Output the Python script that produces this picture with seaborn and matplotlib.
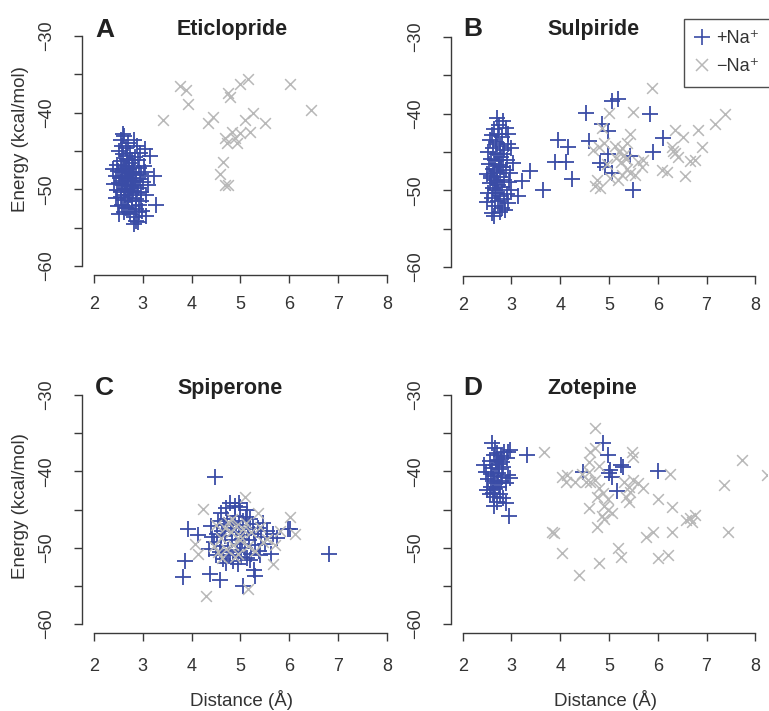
import numpy as np
import pandas as pd
import seaborn as sns
import matplotlib
matplotlib.use('Agg')
import matplotlib.pyplot as plt
from matplotlib.lines import Line2D

# Distance (Å) / Energy (kcal/mol)
# A  Eticlopride
a_pos_x = [2.59, 2.56, 2.62, 2.83, 2.70, 2.66, 3.04, 2.95, 3.14, 2.52, 2.60, 2.75, 2.85, 2.90, 2.68, 2.55,
           2.48, 2.62, 2.72, 2.80, 2.92, 3.02, 2.39, 2.50, 2.58, 2.66, 2.74, 2.83, 2.96, 3.05, 3.24, 2.45,
           2.54, 2.63, 2.70, 2.78, 2.86, 2.94, 3.00, 2.42, 2.51, 2.60, 2.68, 2.76, 2.84, 2.91, 2.47, 2.56,
           2.64, 2.72, 2.80, 2.88, 2.97, 3.07, 2.46, 2.55, 2.62, 2.71, 2.79, 2.87, 2.97, 2.49, 2.58, 2.66,
           2.70, 2.78, 2.86, 2.93, 3.28, 2.62, 2.74, 2.83, 3.07, 2.87, 2.83, 2.90, 2.65, 2.71, 2.77, 2.69,
           2.81, 2.58, 2.73, 2.87, 2.63, 2.75, 2.67, 2.78, 2.57, 2.88, 3.10, 2.52, 2.92, 2.99]
a_pos_y = [-42.8, -43.5, -43.1, -43.5, -44.0, -44.6, -44.8, -45.3, -45.7, -45.0, -45.4, -45.2, -45.8, -46.2,
           -46.0, -46.3, -46.8, -46.9, -46.6, -47.0, -47.2, -46.9, -47.4, -47.6, -47.8, -47.5, -47.9, -47.7,
           -48.0, -47.8, -48.3, -48.3, -48.5, -48.4, -48.7, -48.5, -48.9, -48.6, -49.1, -49.3, -49.2, -49.5,
           -49.3, -49.6, -49.4, -49.8, -50.1, -50.3, -50.0, -50.4, -50.2, -50.5, -50.3, -50.7, -51.1, -51.0,
           -51.4, -51.2, -51.5, -51.3, -51.5, -52.2, -52.0, -52.5, -52.4, -52.2, -52.6, -52.0, -52.0, -53.0,
           -53.2, -53.6, -53.5, -54.1, -54.5, -54.3, -47.2, -48.1, -48.9, -49.9, -49.0, -48.9, -47.3, -48.2,
           -50.7, -50.8, -45.7, -46.2, -44.3, -44.4, -49.4, -53.2, -53.0, -52.9]
a_neg_x = [3.41, 3.76, 3.89, 3.93, 4.34, 4.44, 4.75, 4.79, 4.99, 5.16, 6.02, 6.45, 5.09, 5.26, 5.50, 5.20,
           4.99, 4.83, 4.68, 4.73, 4.93, 4.89, 4.64, 4.58, 4.68, 4.75]
a_neg_y = [-40.9, -36.5, -37.0, -38.8, -41.4, -40.5, -37.4, -38.0, -36.2, -35.6, -36.3, -39.7, -40.9, -40.0,
           -41.4, -42.5, -42.6, -42.5, -43.3, -43.9, -43.9, -43.3, -46.5, -48.0, -49.5, -49.4]

# B  Sulpiride
b_pos_x = [2.70, 2.83, 2.75, 2.65, 2.88, 2.60, 2.72, 2.80, 2.55, 2.68, 2.93, 2.76, 2.62, 2.85, 3.00, 2.52,
           2.70, 2.79, 2.58, 2.66, 2.90, 3.04, 2.53, 2.74, 2.82, 2.62, 2.70, 2.88, 2.97, 2.50, 2.58, 2.77,
           2.66, 2.85, 2.95, 2.55, 2.73, 2.62, 2.81, 3.00, 2.52, 2.68, 2.77, 2.90, 2.60, 2.72, 2.84, 2.93,
           2.50, 2.66, 2.80, 2.87, 2.60, 2.65, 2.76, 2.69, 2.74, 2.64, 2.71, 2.79, 2.67, 2.82, 2.57, 2.92,
           3.21, 3.14, 3.38, 3.64, 3.89, 4.12, 3.96, 4.15, 4.24, 4.53, 4.58, 5.06, 5.18, 4.86, 4.98, 5.84,
           6.11, 5.90, 4.98, 5.43, 4.81, 4.92, 5.06, 5.49]
b_pos_y = [-40.5, -41.0, -41.5, -42.0, -41.8, -42.8, -42.6, -43.0, -43.4, -43.7, -43.9, -44.2, -44.5, -44.7,
           -44.5, -45.0, -45.2, -45.6, -45.9, -46.1, -46.0, -46.4, -46.6, -46.7, -46.9, -47.2, -47.5, -47.4,
           -47.7, -47.9, -48.1, -48.3, -48.6, -48.7, -48.9, -49.1, -49.3, -49.7, -49.6, -49.9, -50.3, -50.4,
           -50.7, -50.5, -51.0, -51.4, -51.2, -51.6, -51.5, -52.0, -52.3, -52.6, -53.0, -53.3, -52.9, -44.0,
           -46.0, -47.8, -48.9, -47.0, -50.0, -45.3, -48.4, -42.6,
           -48.8, -50.8, -47.5, -49.9, -46.3, -46.3, -43.4, -44.3, -48.5, -39.9, -43.6, -38.3, -38.1, -41.4,
           -42.3, -40.0, -43.2, -45.0, -45.3, -45.5, -46.4, -46.9, -47.7, -49.9]
b_neg_x = [5.88, 4.99, 5.49, 7.38, 7.18, 6.83, 6.36, 6.52, 6.91, 5.43, 5.37, 4.89, 4.68, 4.79, 5.13, 5.26,
           5.20, 5.30, 5.15, 5.24, 5.35, 6.29, 6.36, 6.42, 6.31, 6.66, 6.77, 6.56, 6.09, 6.19, 5.60, 5.68,
           5.70, 5.53, 5.43, 5.27, 5.18, 5.02, 4.75, 4.71, 4.82, 4.86, 4.95, 5.36]
b_neg_y = [-36.6, -39.9, -39.8, -40.1, -41.4, -42.1, -42.1, -43.0, -44.3, -42.7, -43.8, -43.8, -44.7, -44.3,
           -44.2, -44.5, -45.0, -45.4, -45.8, -46.3, -45.9, -44.3, -45.1, -45.6, -44.9, -46.2, -46.0, -48.2,
           -47.3, -47.6, -46.3, -46.9, -46.0, -48.0, -47.7, -48.0, -48.6, -48.4, -48.6, -49.5, -49.7, -41.8,
           -46.6, -47.2]

# C  Spiperone
c_pos_x = [4.48, 6.80, 3.86, 3.83, 3.93, 4.13, 4.38, 4.58, 5.06, 5.30, 5.27, 6.01, 5.67, 5.63, 5.98, 5.75,
           4.78, 4.96, 5.13, 4.99, 4.70, 4.88, 5.20, 4.60,
           4.40, 4.45, 4.35, 4.50, 4.55, 4.62, 4.60, 4.65, 4.68, 4.72, 4.75, 4.80, 4.82, 4.85, 4.88, 4.90,
           4.93, 4.97, 5.00, 5.02, 5.05, 5.08, 5.10, 5.13, 5.16, 5.18, 5.22, 5.25, 5.28, 5.30, 5.35, 5.38,
           5.42, 5.45, 5.50, 5.55, 4.52, 4.70, 4.95, 5.12, 4.58, 4.85, 5.20, 5.40, 4.42, 4.66, 5.04, 4.78]
c_pos_y = [-40.8, -50.8, -51.8, -53.8, -47.5, -48.4, -53.4, -54.3, -55.0, -53.7, -52.9, -47.5, -48.2, -50.8,
           -47.6, -48.7, -44.2, -44.2, -45.1, -44.7, -44.8, -44.5, -46.2, -45.5,
           -47.2, -49.3, -50.2, -51.0, -46.5, -47.8, -49.8, -51.5, -48.5, -46.2, -50.3, -47.4, -49.0, -51.8,
           -45.8, -48.0, -50.6, -47.0, -49.5, -51.2, -46.5, -48.4, -50.0, -51.4, -47.6, -49.0, -50.8, -46.9,
           -48.2, -49.6, -47.4, -50.4, -48.6, -46.8, -49.5, -47.8, -48.2, -52.0, -52.2, -46.0, -50.6, -46.8,
           -51.6, -51.0, -48.6, -47.0, -48.9, -51.0]
c_neg_x = [4.30, 5.09, 4.23, 6.02, 6.12, 5.67, 4.13, 4.07, 5.16, 5.36, 5.81, 4.50, 4.60, 4.70, 4.80, 4.85,
           4.90, 4.95, 5.00, 5.05, 4.62, 4.75, 5.15, 5.22, 5.30, 5.45, 5.55, 5.70, 4.45, 4.88, 4.68, 4.82,
           5.12, 5.40, 4.55, 4.98]
c_neg_y = [-56.3, -43.3, -44.9, -46.0, -48.2, -52.1, -50.8, -49.5, -55.4, -45.4, -47.8, -47.0, -48.8, -50.2,
           -48.0, -49.6, -47.2, -50.9, -48.5, -47.6, -51.4, -46.6, -49.8, -48.0, -50.5, -49.2, -48.9, -49.6,
           -49.8, -51.2, -47.4, -46.2, -46.8, -47.3, -50.6, -49.0]

# D  Zotepine
d_pos_x = [2.61, 2.64, 2.98, 3.32, 2.95, 2.88, 2.64, 2.44, 2.50, 2.70, 2.78, 2.85, 2.72, 2.80, 2.90, 2.55,
           2.60, 2.68, 2.75, 2.83, 2.47, 2.57, 2.65, 2.73, 2.80, 2.92, 2.98, 2.52, 2.62, 2.70, 2.78, 2.88,
           2.58, 2.67, 2.75, 2.55, 2.65, 2.77, 2.70, 2.83, 2.93, 2.67, 2.74, 2.62,
           4.87, 4.97, 5.24, 5.28, 5.03, 4.99, 5.07, 5.17, 6.01, 4.46]
d_pos_y = [-36.3, -37.9, -37.2, -37.9, -45.9, -44.2, -44.6, -39.2, -42.4, -37.6, -38.0, -37.5, -38.5, -38.8,
           -38.3, -38.7, -39.5, -39.2, -39.7, -39.4, -40.1, -40.3, -40.6, -40.2, -40.7, -40.5, -40.9, -41.0,
           -41.3, -41.5, -41.2, -41.5, -42.0, -42.3, -42.0, -43.0, -43.3, -43.0, -44.0, -43.5, -37.4, -36.9,
           -39.0, -42.8,
           -36.3, -37.9, -39.2, -39.4, -39.8, -40.2, -40.7, -42.6, -39.9, -40.1]
d_neg_x = [3.67, 3.84, 3.87, 4.04, 4.04, 4.11, 4.14, 4.38, 4.72, 4.62, 4.72, 5.48, 5.50, 4.58, 4.31, 4.62,
           4.52, 4.72, 4.58, 5.30, 5.40, 5.50, 5.60, 5.69, 5.44, 5.34, 5.40, 4.79, 4.87, 4.76, 4.97, 4.89,
           4.97, 4.86, 4.89, 5.07, 4.58, 4.76, 6.01, 6.30, 6.26, 6.57, 6.67, 6.77, 6.71, 6.30, 5.91, 5.75,
           5.19, 5.24, 6.01, 6.22, 4.79, 7.35, 7.45, 7.73, 8.25, 4.45, 4.80]
d_neg_y = [-37.4, -47.9, -48.1, -50.7, -40.7, -41.4, -40.5, -53.6, -34.3, -37.5, -36.9, -37.5, -38.1, -38.8,
           -41.4, -41.4, -41.4, -41.1, -40.1, -41.4, -42.1, -41.1, -41.5, -42.2, -42.7, -43.4, -44.0, -42.2,
           -42.8, -43.4, -43.6, -44.6, -45.1, -45.8, -46.3, -45.5, -44.8, -47.3, -43.6, -44.7, -40.4, -46.4,
           -46.1, -45.7, -46.6, -48.0, -48.0, -48.6, -50.1, -51.2, -51.4, -51.0, -52.0, -41.8, -48.0, -38.5,
           -40.5, -40.3, -39.3]

panel_letters = ['A', 'B', 'C', 'D']
panel_titles = ['Eticlopride', 'Sulpiride', 'Spiperone', 'Zotepine']
series = [(a_pos_x, a_pos_y, a_neg_x, a_neg_y),
          (b_pos_x, b_pos_y, b_neg_x, b_neg_y),
          (c_pos_x, c_pos_y, c_neg_x, c_neg_y),
          (d_pos_x, d_pos_y, d_neg_x, d_neg_y)]
x_ticks = [2, 3, 4, 5, 6, 7, 8]
y_ticks = [-60, -55, -50, -45, -40, -35, -30]
legend_labels = ['+Na\u207a', '\u2212Na\u207a']

BLUE = '#3a4ca6'
GRAY = '#b8b8b8'
AXC = '#3a3a3a'

sns.set_style('white')
plt.rcParams['font.family'] = ['Liberation Sans', 'DejaVu Sans']

W, H = 769, 711
fig = plt.figure(figsize=(W / 100, H / 100), dpi=100)

# axes boxes in pixels: left, top, right, bottom
boxes = [(82, 27, 399, 275), (451, 28, 767, 276), (82, 386, 399, 633), (451, 386, 767, 633)]
letter_pos = [(95, 37), (463, 36), (95, 395), (463, 395)]
title_pos = [(177, 35), (547, 35), (177, 394), (547, 394)]

for i, (l, t, r, b) in enumerate(boxes):
    ax = fig.add_axes([l / W, 1 - b / H, (r - l) / W, (b - t) / H])
    px, py, nx, ny = series[i]
    sns.scatterplot(x=px, y=py, marker='+', color=BLUE, s=120, linewidth=1.3, ax=ax, legend=False)
    sns.scatterplot(x=nx, y=ny, marker='x', color=GRAY, s=60, linewidth=1.1, ax=ax, legend=False)
    ax.set_xlim(1.76, 8.24)
    ax.set_ylim(-61.2, -28.8)
    for sp in ['top', 'right']:
        ax.spines[sp].set_visible(False)
    for sp in ['left', 'bottom']:
        ax.spines[sp].set_color(AXC)
        ax.spines[sp].set_linewidth(1.0)
    ax.spines['bottom'].set_bounds(2, 8)
    ax.spines['left'].set_bounds(-60, -30)
    ax.set_xticks(x_ticks)
    ax.set_xticklabels([str(v) for v in x_ticks])
    ax.set_yticks(y_ticks)
    ax.set_yticklabels([f'\u2212{abs(v)}' if v % 10 == 0 else '' for v in y_ticks],
                       rotation=90, va='center')
    xpad = 9 if i < 2 else 12
    ax.tick_params(axis='x', direction='out', length=6, width=1, color=AXC, labelcolor='#333333',
                   labelsize=13, pad=xpad, bottom=True)
    ax.tick_params(axis='y', direction='out', length=6, width=1, color=AXC, labelcolor='#333333',
                   labelsize=13, pad=13, left=True)
    ax.set_xlabel('')
    ax.set_ylabel('')
    ax.patch.set_alpha(0)

    lx, ly = letter_pos[i]
    fig.text(lx / W, 1 - ly / H, panel_letters[i], fontsize=19, fontweight='bold',
             color='#222222', ha='left', va='baseline')
    tx, ty = title_pos[i]
    fig.text(tx / W, 1 - ty / H, panel_titles[i], fontsize=15.5, fontweight='bold',
             color='#222222', ha='left', va='baseline')

# axis labels
fig.text(21 / W, 1 - 139 / H, 'Energy (kcal/mol)', rotation=90, fontsize=13.5, color='#333333',
         ha='center', va='center')
fig.text(21 / W, 1 - 506 / H, 'Energy (kcal/mol)', rotation=90, fontsize=13.5, color='#333333',
         ha='center', va='center')
fig.text(241 / W, 1 - 700 / H, 'Distance (\u00c5)', fontsize=13.5, color='#333333', ha='center', va='center')
fig.text(605 / W, 1 - 700 / H, 'Distance (\u00c5)', fontsize=13.5, color='#333333', ha='center', va='center')

# legend in panel B
handles = [Line2D([], [], linestyle='none', marker='+', color=BLUE, markersize=11, markeredgewidth=1.2),
           Line2D([], [], linestyle='none', marker='x', color=GRAY, markersize=8, markeredgewidth=1.1)]
leg = fig.legend(handles, legend_labels, loc='upper left', bbox_to_anchor=(684 / W, 1 - 19 / H),
                 bbox_transform=fig.transFigure, frameon=True, fancybox=False, fontsize=13,
                 handlelength=0.7, handletextpad=0.45, borderpad=0.62, labelspacing=0.62,
                 borderaxespad=0)
leg.get_frame().set_edgecolor('#222222')
leg.get_frame().set_linewidth(1.0)
for t in leg.get_texts():
    t.set_color('#333333')

fig.savefig('out.png', dpi=100)
